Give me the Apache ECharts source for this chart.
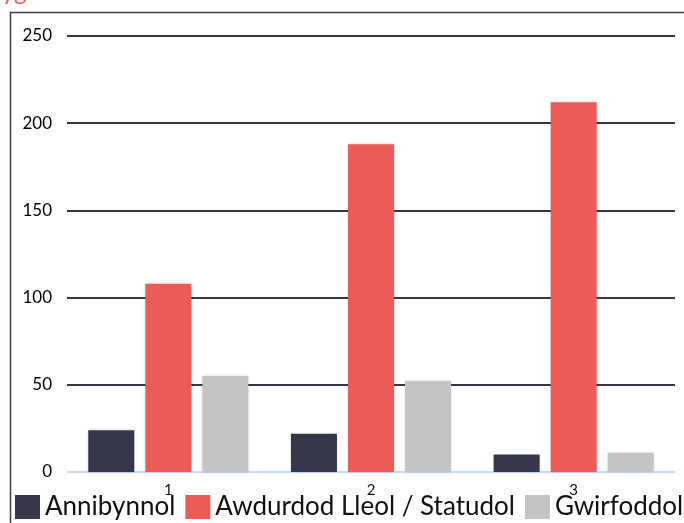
<!DOCTYPE html>
<html>
<head>
<meta charset="utf-8">
<script src="https://cdn.jsdelivr.net/npm/echarts@6/dist/echarts.min.js"></script>
<style>html,body{margin:0;padding:0;background:#fff}#c{width:684px;height:523px}</style>
</head>
<body>
<div id="c"></div>
<script>
const categories = ['1', '2', '3'];
const seriesNames = ['Annibynnol', 'Awdurdod Lleol / Statudol', 'Gwirfoddol'];
const annibynnol = [24, 22, 10];
const awdurdod = [108, 188, 212];
const gwirfoddol = [55, 52, 11];
const yTicks = [0, 50, 100, 150, 200, 250];

const colors = ['#363849', '#ec5b57', '#c4c4c4'];
const chart = echarts.init(document.getElementById('c'), null, {renderer: 'canvas'});
const shadow = {shadowBlur: 3, shadowColor: 'rgba(0,0,0,0.18)', shadowOffsetX: 0, shadowOffsetY: 0};
chart.setOption({
  animation: false,
  color: colors,
  textStyle: {fontFamily: 'Lato'},
  graphic: [
    {type: 'rect', shape: {x: 10.5, y: 12.5, width: 700, height: 600}, style: {fill: 'none', stroke: '#3a3b4b', lineWidth: 1.5}, z: -10},
    {type: 'text', left: 2, top: -20, style: {text: 'yg', fill: '#ec5b57', fontSize: 24, fontFamily: 'Lato'}}
  ],
  grid: {left: 67, right: 9, top: 36, bottom: 51},
  legend: {
    left: 15, top: 494, padding: 0, itemGap: 10, itemWidth: 25, itemHeight: 24,
    icon: 'rect',
    textStyle: {fontSize: 26, color: '#111', fontFamily: 'Lato'},
    data: seriesNames
  },
  xAxis: {
    type: 'category', data: categories,
    axisLine: {show: false}, axisTick: {show: false},
    axisLabel: {margin: 11, fontSize: 15, color: '#111'}
  },
  yAxis: {
    type: 'value', min: yTicks[0], max: yTicks[yTicks.length - 1], interval: 50,
    axisLine: {show: false}, axisTick: {show: false},
    axisLabel: {margin: 15, fontSize: 17, color: '#000'},
    splitLine: {lineStyle: {color: ['#c9d7ef', '#353647', '#353647', '#353647', '#353647', '#353647'], width: 2}}
  },
  series: [
    {name: seriesNames[0], type: 'bar', data: annibynnol, barGap: '24%', barCategoryGap: '21%', itemStyle: shadow},
    {name: seriesNames[1], type: 'bar', data: awdurdod, itemStyle: shadow},
    {name: seriesNames[2], type: 'bar', data: gwirfoddol, itemStyle: shadow}
  ]
});
</script>
</body>
</html>
